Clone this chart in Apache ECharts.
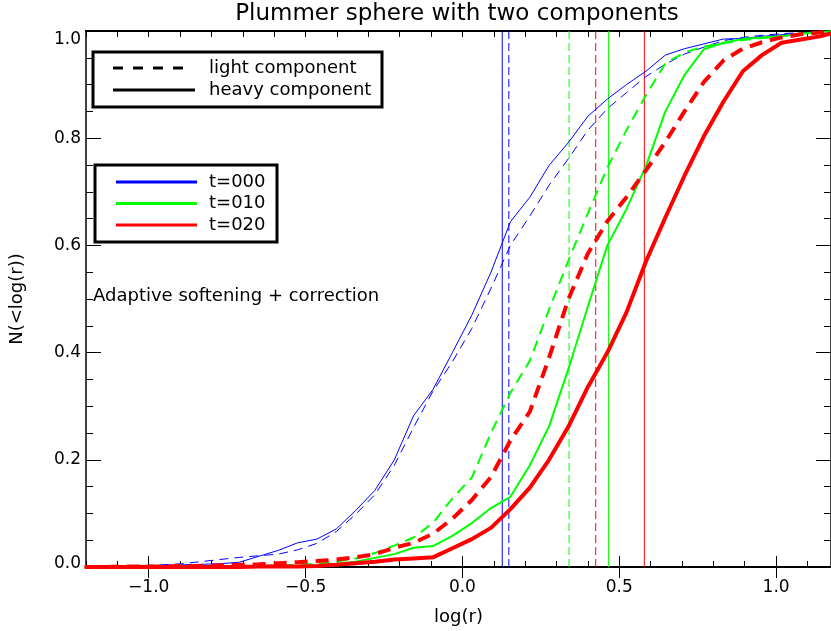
<!DOCTYPE html>
<html lang="en">
<head>
<meta charset="UTF-8">
<title>Plummer sphere with two components</title>
<script src="https://cdn.jsdelivr.net/npm/echarts@6/dist/echarts.min.js"></script>
<style>
  html, body { margin: 0; padding: 0; background: #fff; }
  #chart { width: 831px; height: 631px; }
</style>
</head>
<body>
<div id="chart"></div>
<script>
// sample positions in log(r)
var logR = [-1.204, -1.143, -1.081, -1.019, -0.958, -0.896, -0.834, -0.773, -0.711, -0.649,
            -0.587, -0.526, -0.464, -0.402, -0.341, -0.279, -0.217, -0.156, -0.094, -0.032,
             0.030,  0.091,  0.153,  0.215,  0.276,  0.338,  0.400,  0.462,  0.523,  0.585,
             0.647,  0.708,  0.770,  0.832,  0.894,  0.955,  1.017,  1.079,  1.140,  1.202];

// cumulative fractions N(<log r)
var heavyT000 = [0.000, 0.000, 0.001, 0.002, 0.003, 0.004, 0.005, 0.006, 0.009, 0.020,
                 0.031, 0.045, 0.052, 0.071, 0.105, 0.143, 0.200, 0.282, 0.331, 0.400,
                 0.470, 0.550, 0.644, 0.690, 0.749, 0.792, 0.841, 0.873, 0.900, 0.925,
                 0.955, 0.967, 0.976, 0.985, 0.986, 0.990, 0.993, 0.996, 0.998, 1.000];
var lightT000 = [0.000, 0.001, 0.002, 0.003, 0.004, 0.006, 0.010, 0.014, 0.018, 0.021,
                 0.024, 0.032, 0.044, 0.066, 0.098, 0.135, 0.190, 0.260, 0.328, 0.383,
                 0.445, 0.520, 0.600, 0.655, 0.712, 0.762, 0.815, 0.855, 0.885, 0.915,
                 0.938, 0.957, 0.970, 0.982, 0.988, 0.992, 0.995, 0.997, 0.999, 1.000];
var heavyT010 = [0.000, 0.000, 0.000, 0.000, 0.000, 0.000, 0.000, 0.001, 0.001, 0.001,
                 0.002, 0.002, 0.003, 0.006, 0.010, 0.017, 0.024, 0.036, 0.039, 0.058,
                 0.082, 0.110, 0.131, 0.190, 0.262, 0.370, 0.486, 0.600, 0.668, 0.748,
                 0.850, 0.918, 0.966, 0.978, 0.985, 0.988, 0.990, 0.995, 0.998, 1.000];
var lightT010 = [0.000, 0.000, 0.000, 0.000, 0.000, 0.000, 0.001, 0.001, 0.001, 0.002,
                 0.003, 0.004, 0.006, 0.010, 0.016, 0.026, 0.040, 0.055, 0.082, 0.128,
                 0.167, 0.250, 0.325, 0.385, 0.480, 0.572, 0.660, 0.745, 0.815, 0.880,
                 0.940, 0.960, 0.971, 0.977, 0.983, 0.987, 0.990, 0.995, 0.998, 1.000];
var heavyT020 = [0.000, 0.000, 0.000, 0.000, 0.000, 0.000, 0.000, 0.000, 0.000, 0.001,
                 0.001, 0.001, 0.002, 0.004, 0.007, 0.010, 0.014, 0.016, 0.018, 0.035,
                 0.052, 0.073, 0.108, 0.148, 0.200, 0.262, 0.336, 0.400, 0.475, 0.570,
                 0.652, 0.730, 0.804, 0.868, 0.925, 0.955, 0.978, 0.984, 0.990, 1.000];
var lightT020 = [0.000, 0.000, 0.001, 0.001, 0.001, 0.002, 0.002, 0.003, 0.004, 0.005,
                 0.007, 0.009, 0.011, 0.014, 0.018, 0.024, 0.036, 0.045, 0.062, 0.090,
                 0.125, 0.168, 0.236, 0.290, 0.390, 0.500, 0.585, 0.645, 0.690, 0.740,
                 0.793, 0.850, 0.905, 0.945, 0.967, 0.979, 0.988, 0.994, 0.997, 1.000];

// half-mass radii (vertical markers)
var halfLight = [0.148, 0.340, 0.425];
var halfHeavy = [0.127, 0.466, 0.580];

var times = ['t=000', 't=010', 't=020'];
var xMajor = [-1.0, -0.5, 0.0, 0.5, 1.0];

var lightSets = [lightT000, lightT010, lightT020];
var heavySets = [heavyT000, heavyT010, heavyT020];
var colors = ['#0000ff', '#00ff00', '#ff0000'];
var widths = [1, 2, 4];
var dashes = [[9, 6], [11, 7], [13, 8]];
var FONT = 'DejaVu Sans';

function pairs(ys) {
    return logR.map(function (x, i) { return [x, ys[i]]; });
}

// vertical marker drawn as a two-point series spanning the y range
function vline(name, x, color, dash) {
    return {
        name: name, type: 'line', symbol: 'none', silent: true,
        color: color, z: 1,
        data: [[x, 0], [x, 1]],
        lineStyle: { color: color, width: 1, type: dash }
    };
}

var series = [];
for (var i = 0; i < times.length; i++) {
    series.push(vline(times[i] + ' light r_h', halfLight[i], colors[i], [8, 4]));
    series.push(vline(times[i] + ' heavy r_h', halfHeavy[i], colors[i], 'solid'));
}
for (var i = 0; i < times.length; i++) {
    series.push({
        name: times[i] + ' light',
        type: 'line',
        symbol: 'none',
        color: colors[i],
        z: 2,
        data: pairs(lightSets[i]),
        lineStyle: { color: colors[i], width: widths[i], type: dashes[i] }
    });
    series.push({
        name: times[i] + ' heavy',
        type: 'line',
        symbol: 'none',
        color: colors[i],
        z: 2,
        data: pairs(heavySets[i]),
        lineStyle: { color: colors[i], width: widths[i], type: 'solid' }
    });
}

function fmt(v) {
    var s = Math.abs(v).toFixed(1);
    return v < -1e-9 ? '\u2212' + s : s;
}
function fmtY(v) {
    if (Math.abs(v) < 1e-9) return '{lo|0.0}';
    if (Math.abs(v - 1) < 1e-9) return '{hi|1.0}';
    return v.toFixed(1);
}

var tickStyle = { color: '#000', width: 1 };
var nameStyle = { color: '#000', fontSize: 18, fontFamily: FONT };

function xAxisPair(pos, withLabels) {
    return [{
        type: 'value', position: pos, min: -1.2, max: 1.175, interval: 0.1,
        axisLine: { show: true, onZero: false, lineStyle: { color: '#000', width: 2 } },
        axisTick: { show: true, inside: true, length: 6, lineStyle: tickStyle },
        axisLabel: { show: false },
        splitLine: { show: false }
    }, {
        type: 'value', position: pos, min: -1.2, max: 1.175,
        name: withLabels ? 'log(r)' : '',
        nameLocation: 'middle', nameGap: 41,
        nameTextStyle: nameStyle,
        axisLine: { show: false },
        axisTick: { show: true, inside: true, length: 11, customValues: xMajor, lineStyle: tickStyle },
        axisLabel: { show: withLabels, customValues: xMajor, formatter: fmt, margin: 12,
                     color: '#000', fontSize: 17, fontFamily: FONT },
        splitLine: { show: false }
    }];
}

function yAxisDef(pos, withLabels) {
    return {
        type: 'value', position: pos, min: 0, max: 1, interval: 0.2,
        name: withLabels ? 'N(<log(r))' : '',
        nameLocation: 'middle', nameGap: 60, nameRotate: 90,
        nameTextStyle: nameStyle,
        axisLine: { show: true, onZero: false, lineStyle: { color: '#000', width: 1.5 } },
        axisTick: { show: true, inside: true, length: 15, lineStyle: tickStyle },
        minorTick: { show: true, splitNumber: 4, length: 7, lineStyle: tickStyle },
        axisLabel: { show: withLabels, formatter: fmtY, margin: 5,
                     color: '#000', fontSize: 17, fontFamily: FONT,
                     rich: {
                         lo: { fontSize: 17, fontFamily: FONT, color: '#000', padding: [0, 0, 6, 0] },
                         hi: { fontSize: 17, fontFamily: FONT, color: '#000', padding: [18, 0, 0, 0] }
                     } },
        splitLine: { show: false },
        minorSplitLine: { show: false }
    };
}

var xAxes = xAxisPair('bottom', true).concat(xAxisPair('top', false));

var legendText = { fill: '#000', fontSize: 18, fontFamily: FONT, verticalAlign: 'middle' };
function legendLine(x1, x2, y, color, dash) {
    return { type: 'line', shape: { x1: x1, y1: y, x2: x2, y2: y },
             style: { stroke: color, lineWidth: 3, lineDash: dash || null } };
}
function legendLabel(x, y, text) {
    return { type: 'text', x: x, y: y, style: Object.assign({ text: text }, legendText) };
}

var graphics = [
    { type: 'text', x: 457, y: 14,
      style: { text: 'Plummer sphere with two components', fill: '#000', fontSize: 23,
               fontFamily: FONT, align: 'center', verticalAlign: 'middle' } },
    { type: 'rect', shape: { x: 93, y: 52, width: 289, height: 55 },
      style: { fill: '#fff', stroke: '#000', lineWidth: 3 } },
    legendLine(113, 186, 68, '#000', [10, 10]),
    legendLabel(209, 68, 'light component'),
    legendLine(113, 195, 90, '#000'),
    legendLabel(209, 90, 'heavy component'),
    { type: 'rect', shape: { x: 95, y: 165, width: 182, height: 77 },
      style: { fill: '#fff', stroke: '#000', lineWidth: 3 } },
    { type: 'text', x: 93, y: 296,
      style: Object.assign({ text: 'Adaptive softening + correction' }, legendText) }
];
for (var k = 0; k < times.length; k++) {
    graphics.push(legendLine(116, 197, 182 + k * 21.5, colors[k]));
    graphics.push(legendLabel(209, 182 + k * 21.5, times[k]));
}

var chart = echarts.init(document.getElementById('chart'));
chart.setOption({
    animation: false,
    backgroundColor: '#fff',
    grid: { left: 80, right: 0, top: 31, bottom: 60 },
    xAxis: xAxes,
    yAxis: [yAxisDef('left', true), yAxisDef('right', false)],
    series: series,
    graphic: graphics
});
</script>
</body>
</html>
